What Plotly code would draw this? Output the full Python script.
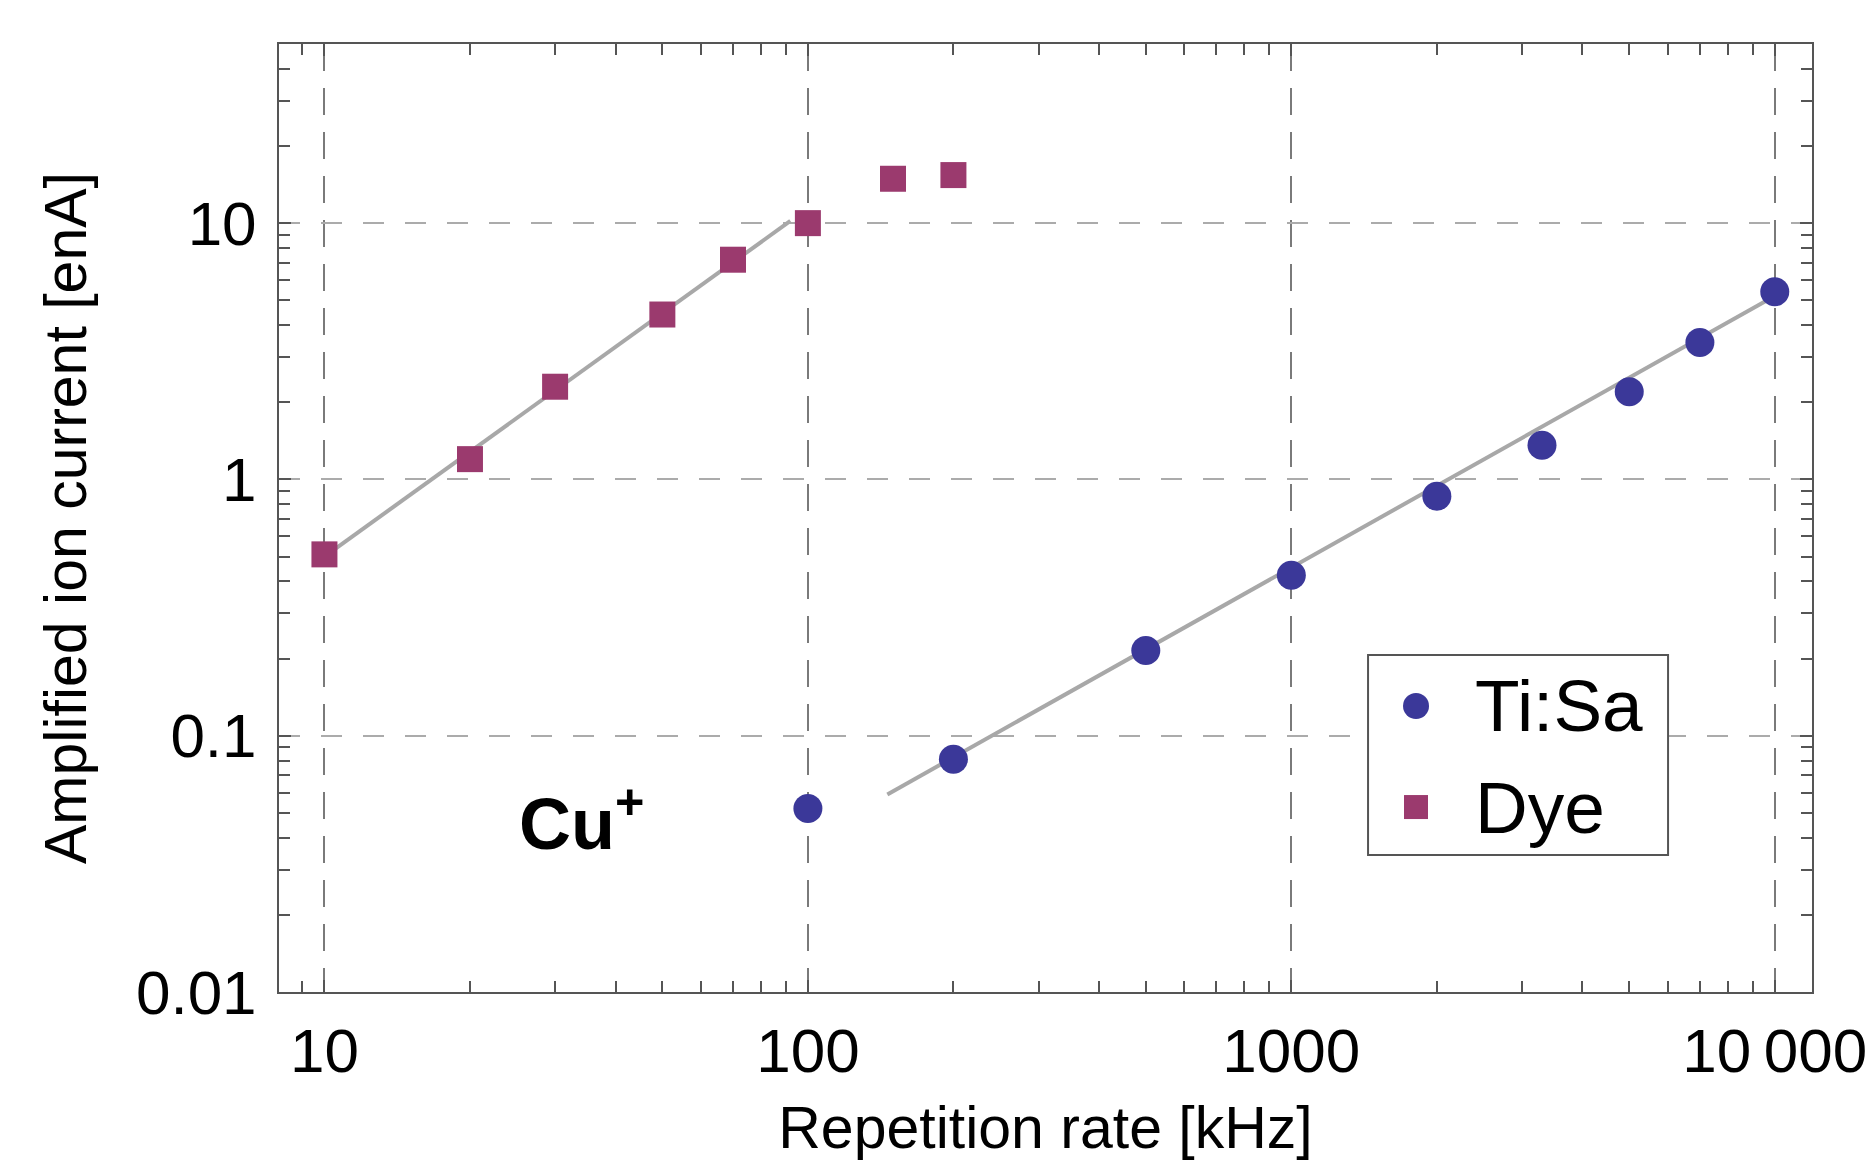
import plotly.graph_objects as go

# ---------------- data ----------------
dye_rate = [10, 20, 30, 50, 70, 100, 150, 200]
dye_current = [0.51, 1.2, 2.3, 4.4, 7.2, 10.0, 14.9, 15.4]

tisa_rate = [100, 200, 500, 1000, 2000, 3300, 5000, 7000, 10000]
tisa_current = [0.052, 0.081, 0.215, 0.423, 0.86, 1.36, 2.2, 3.42, 5.4]

# power-law fit lines (straight on log-log axes)
dye_fit_rate = [10, 92]
dye_fit_current = [0.5, 10.2]
tisa_fit_rate = [146, 10000]
tisa_fit_current = [0.059, 5.2]

series_names = ["Ti:Sa", "Dye"]

x_tick_vals = [10, 100, 1000, 10000]
x_tick_text = ["10", "100", "1000", "10\u2009000"]
y_tick_vals = [0.01, 0.1, 1, 10]
y_tick_text = ["0.01", "0.1", "1", "10"]

x_title = "Repetition rate [kHz]"
y_title = "Amplified ion current [enA]"
label_text = "<b>Cu<sup>+</sup></b>"

# ---------------- styles ----------------
FONT = "Liberation Sans, Arial, sans-serif"
DYE_COLOR = "#9b3a6e"
TISA_COLOR = "#3b3899"
FIT_COLOR = "#a8a8a8"
FRAME = "#555555"

fig = go.Figure()

fig.add_trace(go.Scatter(x=dye_fit_rate, y=dye_fit_current, mode="lines",
                         line=dict(color=FIT_COLOR, width=4), showlegend=False,
                         hoverinfo="skip"))
fig.add_trace(go.Scatter(x=tisa_fit_rate, y=tisa_fit_current, mode="lines",
                         line=dict(color=FIT_COLOR, width=4), showlegend=False,
                         hoverinfo="skip"))

fig.add_trace(go.Scatter(x=tisa_rate, y=tisa_current, mode="markers", name=series_names[0],
                         showlegend=False,
                         marker=dict(symbol="circle", size=29, color=TISA_COLOR,
                                     line=dict(width=0))))
fig.add_trace(go.Scatter(x=dye_rate, y=dye_current, mode="markers", name=series_names[1],
                         showlegend=False,
                         marker=dict(symbol="square", size=26, color=DYE_COLOR,
                                     line=dict(width=0))))

# label
fig.add_annotation(text=label_text, xref="paper", yref="paper", x=0.197, y=0.183,
                   xanchor="center", yanchor="middle", showarrow=False,
                   font=dict(family=FONT, size=72, color="black"))

# ---- legend box (drawn by hand so the symbols can be as large as in the original)
LEG_X0, LEG_X1, LEG_Y0, LEG_Y1 = 0.7104, 0.9061, 0.1445, 0.3555
SYM_X, TXT_X = 0.7417, 0.7789
ROW_Y = [0.3017, 0.1951]
fig.add_shape(type="rect", xref="paper", yref="paper",
              x0=LEG_X0, x1=LEG_X1, y0=LEG_Y0, y1=LEG_Y1,
              line=dict(color=FRAME, width=2), fillcolor="white", layer="above")
fig.add_shape(type="circle", xref="paper", yref="paper", xsizemode="pixel",
              ysizemode="pixel", xanchor=SYM_X, yanchor=ROW_Y[0],
              x0=-13, x1=13, y0=-13, y1=13, fillcolor=TISA_COLOR,
              line=dict(width=0), layer="above")
fig.add_shape(type="rect", xref="paper", yref="paper", xsizemode="pixel",
              ysizemode="pixel", xanchor=SYM_X, yanchor=ROW_Y[1],
              x0=-12, x1=12, y0=-12, y1=12, fillcolor=DYE_COLOR,
              line=dict(width=0), layer="above")
for name, ry in zip(series_names, ROW_Y):
    fig.add_annotation(text=name, xref="paper", yref="paper", x=TXT_X, y=ry,
                       xanchor="left", yanchor="middle", showarrow=False,
                       font=dict(family=FONT, size=73, color="black"))

axis_common = dict(
    type="log",
    showline=True, linecolor=FRAME, linewidth=2, mirror="ticks",
    ticks="inside", ticklen=12, tickwidth=2, tickcolor=FRAME,
    tickfont=dict(family=FONT, size=62, color="black"),
    title_font=dict(family=FONT, size=59, color="black"),
    zeroline=False,
    minor=dict(ticks="inside", ticklen=11, tickwidth=2, tickcolor=FRAME,
               dtick="D1", showgrid=False),
)

fig.update_xaxes(**axis_common, range=[0.906, 4.077],
                 tickvals=x_tick_vals, ticktext=x_tick_text,
                 showgrid=True, gridcolor="#7a7a7a", gridwidth=1.5,
                 griddash="27px,17px",
                 ticklabelstandoff=4,
                 title=dict(text=x_title, standoff=24))
fig.update_yaxes(**axis_common, range=[-2, 1.699],
                 tickvals=y_tick_vals, ticktext=y_tick_text,
                 showgrid=True, gridcolor="#ababab", gridwidth=2,
                 griddash="21px,21px",
                 ticklabelstandoff=8,
                 title=dict(text=y_title, standoff=30))

fig.update_layout(
    width=1872, height=1161,
    margin=dict(l=279, r=60, t=44, b=169, autoexpand=False),
    plot_bgcolor="white", paper_bgcolor="white",
    font=dict(family=FONT, color="black"),
    showlegend=False,
)

fig.write_html("out.html")
